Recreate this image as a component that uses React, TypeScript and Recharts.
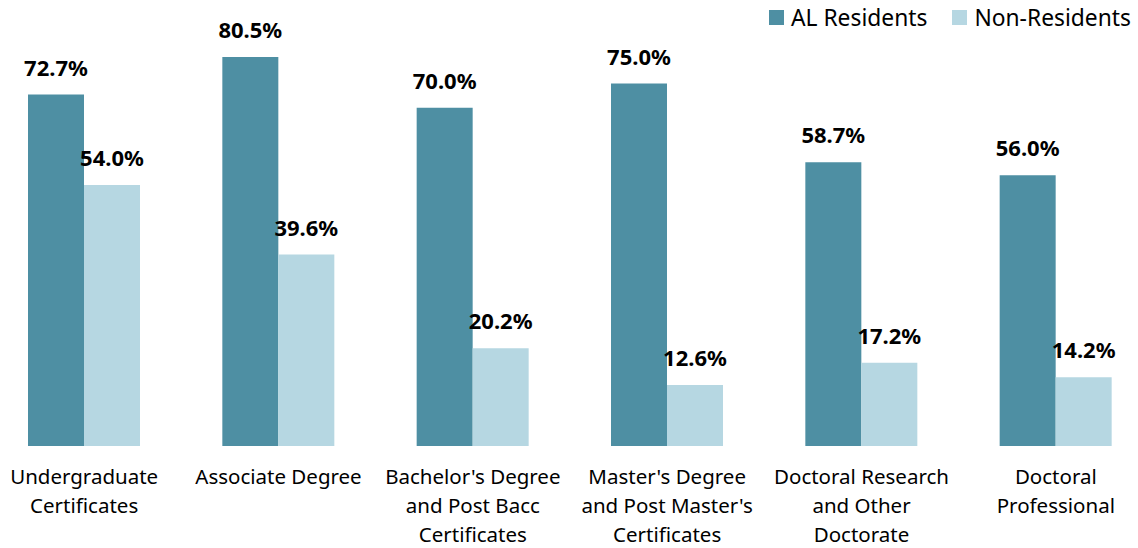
import React from 'react';
import { BarChart, Bar, XAxis, YAxis, LabelList } from 'recharts';

const categories = [
  'Undergraduate\nCertificates',
  'Associate Degree',
  "Bachelor's Degree\nand Post Bacc\nCertificates",
  "Master's Degree\nand Post Master's\nCertificates",
  'Doctoral Research\nand Other\nDoctorate',
  'Doctoral\nProfessional',
];
const residents = [72.7, 80.5, 70.0, 75.0, 58.7, 56.0];
const nonResidents = [54.0, 39.6, 20.2, 12.6, 17.2, 14.2];
const seriesNames = ['AL Residents', 'Non-Residents'];

const DARK = '#4E8FA3';
const LIGHT = '#B6D7E2';
const FONT = '"Noto Sans", Calibri, sans-serif';

const data = categories.map((c, i) => ({
  name: c,
  resident: residents[i],
  nonResident: nonResidents[i],
}));

const CategoryTick = (props: any) => {
  const { x, y, payload } = props;
  const lines = String(payload.value).split('\n');
  return (
    <text x={x} y={y + 30} textAnchor="middle" fontSize={20.5} fill="#000" fontFamily={FONT}>
      {lines.map((l, i) => (
        <tspan key={i} x={x} dy={i === 0 ? 0 : 29}>{l}</tspan>
      ))}
    </text>
  );
};

const LegendBox = () => (
  <div style={{ position: 'absolute', left: 782, top: 2, display: 'flex', alignItems: 'center', fontFamily: FONT, fontSize: 22.8, color: '#000', whiteSpace: 'nowrap' }}>
    <span style={{ width: 15, height: 15, background: DARK, display: 'inline-block', marginRight: 7 }} />
    <span style={{ marginRight: 25 }}>{seriesNames[0]}</span>
    <span style={{ width: 15, height: 15, background: LIGHT, display: 'inline-block', marginRight: 7 }} />
    <span>{seriesNames[1]}</span>
  </div>
);

const fmt = (v: any) => `${Number(v).toFixed(1)}%`;
const labelStyle = { fontFamily: FONT, fontSize: 22, fontWeight: 700, fill: '#000' };

export default function App() {
  return (
    <div style={{ position: 'absolute', left: -13, top: 0, width: 1166, height: 548, background: '#fff' }}>
      <BarChart
        width={1166}
        height={548}
        data={data}
        margin={{ top: 11, right: 0, bottom: 0, left: 0 }}
        barGap={0}
        barCategoryGap={83}
      >
        <XAxis dataKey="name" axisLine={false} tickLine={false} interval={0} tick={<CategoryTick />} height={102} />
        <YAxis hide domain={[0, 90]} />
        <Bar dataKey="resident" name={seriesNames[0]} fill={DARK} barSize={56} isAnimationActive={false}>
          <LabelList dataKey="resident" position="top" offset={19} formatter={fmt} style={labelStyle} />
        </Bar>
        <Bar dataKey="nonResident" name={seriesNames[1]} fill={LIGHT} barSize={56} isAnimationActive={false}>
          <LabelList dataKey="nonResident" position="top" offset={19} formatter={fmt} style={labelStyle} />
        </Bar>
      </BarChart>
      <LegendBox />
    </div>
  );
}
